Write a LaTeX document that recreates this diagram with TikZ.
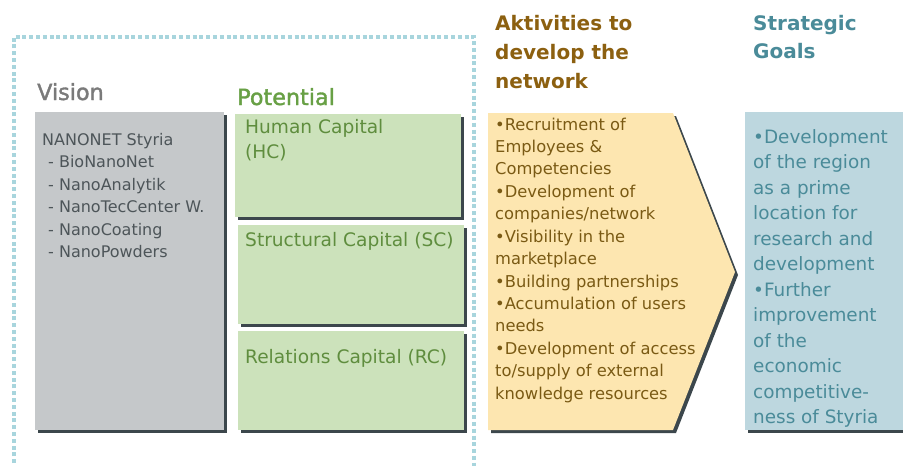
\documentclass[tikz,border=0pt]{standalone}
\usepackage{fontspec}
\setmainfont{DejaVu Sans}
\newfontfamily\headfont[FakeBold=1.6]{DejaVu Sans}
\definecolor{frameC}{HTML}{A8D5DD}
\definecolor{shadowC}{HTML}{3C474C}
\definecolor{visionT}{HTML}{7A7A7A}
\definecolor{grayF}{HTML}{C5C8CA}
\definecolor{grayT}{HTML}{4D5559}
\definecolor{potT}{HTML}{68A045}
\definecolor{greenF}{HTML}{CCE2BB}
\definecolor{greenT}{HTML}{5F8D3E}
\definecolor{orangeF}{HTML}{FDE6B0}
\definecolor{orangeH}{HTML}{8C6010}
\definecolor{orangeT}{HTML}{7A5A14}
\definecolor{blueF}{HTML}{BDD7DF}
\definecolor{blueT}{HTML}{4A8B99}
\tikzset{
  txt/.style={anchor=base west, inner sep=0pt, align=left},
  shadowbox/.style={fill=shadowC, draw=none},
}
\begin{document}
\begin{tikzpicture}[x=1pt,y=-1pt]
\useasboundingbox (0,0) rectangle (903,466);
\clip (0,0) rectangle (903,466);
% dotted frame
\draw[frameC, line width=4pt, dash pattern=on 4pt off 2.8pt]
  (14,470) -- (14,36.5) -- (473.5,36.5) -- (473.5,470);
% titles (base anchor = baseline of last line)
\node[txt, text=visionT, font=\headfont\fontsize{22.3}{27}\selectfont] (tvision) at (37,100) {Vision};
\node[txt, text=potT, font=\headfont\fontsize{22.3}{27}\selectfont] (tpot) at (237,105) {Potential};
\node[txt, text=orangeH, font=\bfseries\fontsize{20}{29.2}\selectfont] (tact) at (495,88.4) {Aktivities to\\develop the\\network};
\node[txt, text=blueT, font=\bfseries\fontsize{20}{28.3}\selectfont] (tgoal) at (753,58.3) {Strategic\\Goals};
% vision box
\fill[shadowbox] (38,115) rectangle (227,433);
\fill[grayF] (35,112) rectangle (224,430);
\node[txt, text=grayT, font=\fontsize{16}{22.4}\selectfont] (vis) at (42,257.5)
  {NANONET Styria\\\hspace*{6pt}- BioNanoNet\\\hspace*{6pt}- NanoAnalytik\\\hspace*{6pt}- NanoTecCenter W.\\\hspace*{6pt}- NanoCoating\\\hspace*{6pt}- NanoPowders};
% potential boxes
\fill[shadowbox] (238,117) rectangle (464,220);
\fill[greenF] (235,114) rectangle (461,217);
\fill[shadowbox] (241,228) rectangle (467,327);
\fill[greenF] (238,225) rectangle (464,324);
\fill[shadowbox] (241,334) rectangle (467,433);
\fill[greenF] (238,331) rectangle (464,430);
\node[txt, text=greenT, font=\fontsize{18.6}{25}\selectfont] (hc) at (245,158.5) {Human Capital\\(HC)};
\node[txt, text=greenT, font=\fontsize{18.6}{25}\selectfont] (sc) at (245,246.5) {Structural Capital (SC)};
\node[txt, text=greenT, font=\fontsize{18.6}{25}\selectfont] (rc) at (245,363.5) {Relations Capital (RC)};
% activities arrow
\fill[shadowbox] (491,116) -- (676,116) -- (738,275) -- (676,433) -- (491,433) -- cycle;
\fill[orangeF] (488,113) -- (673,113) -- (735,272) -- (673,430) -- (488,430) -- cycle;
\node[txt, text=orangeT, font=\fontsize{16.3}{22.43}\selectfont] (act) at (495,399.2)
  {•Recruitment of\\Employees \&\\Competencies\\•Development of\\companies/network\\•Visibility in the\\marketplace\\•Building partnerships\\•Accumulation of users\\needs\\•Development of access\\to/supply of external\\knowledge resources};
% goals box
\fill[shadowbox] (748,115) rectangle (910,433);
\fill[blueF] (745,112) rectangle (910,430);
\node[txt, text=blueT, font=\fontsize{18.4}{25.5}\selectfont] (goal) at (753,423.8)
  {•Development\\of the region\\as a prime\\location for\\research and\\development\\•Further\\improvement\\of the\\economic\\competitive-\\ness of Styria};
\end{tikzpicture}
\end{document}
